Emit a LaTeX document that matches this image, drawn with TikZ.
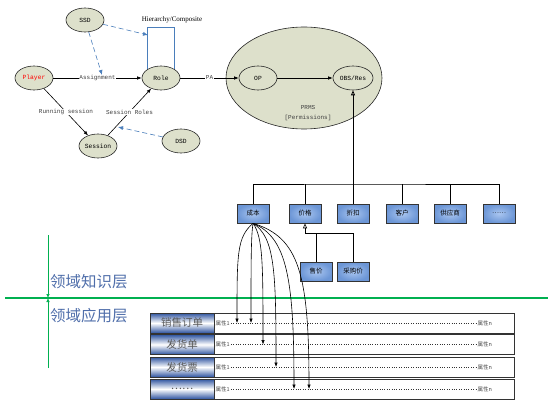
\documentclass[tikz,border=0pt]{standalone}
\usepackage{fontspec}
\setmainfont{Liberation Serif}
\setmonofont{Liberation Mono}
\newfontfamily\cjk{Noto Sans CJK SC}
\usetikzlibrary{shapes.geometric,arrows.meta,positioning}
\definecolor{ovalfill}{RGB}{221,224,203}
\definecolor{dashblue}{RGB}{74,126,187}
\definecolor{boxin}{RGB}{170,198,240}
\definecolor{boxout}{RGB}{108,150,214}
\definecolor{rowblue}{RGB}{46,84,160}
\definecolor{layergreen}{RGB}{0,176,80}
\definecolor{layertext}{RGB}{79,110,170}
\tikzset{
  oval/.style={ellipse, draw=black!85, semithick, fill=ovalfill, minimum width=38pt,
    minimum height=24pt, inner sep=0pt, font=\ttfamily\fontsize{6.3}{7}\selectfont},
  lbl/.style={fill=white, inner sep=0.6pt, text=black!75,
    font=\ttfamily\fontsize{6}{7}\selectfont},
  arr/.style={semithick, -{Latex[length=4.5pt,width=3.5pt]}},
  dasharr/.style={dashblue, semithick, dash pattern=on 5pt off 3pt,
    -{Latex[length=5pt,width=4pt]}},
  kbox/.style={draw=black!80, semithick, inner color=boxin, outer color=boxout,
    minimum width=32pt, minimum height=19pt, inner sep=0pt,
    font=\cjk\fontsize{6.5}{7}\selectfont},
  rowhead/.style={draw=black!80, semithick, top color=rowblue, bottom color=rowblue,
    middle color=white, minimum width=64pt, minimum height=20pt, inner sep=0pt,
    text=black!65, font=\cjk\fontsize{10.5}{11}\selectfont},
  rowbody/.style={draw=black!80, thick, fill=white, minimum width=300pt,
    minimum height=20pt, inner sep=0pt},
  attr/.style={inner sep=1pt, text=black!70, font=\cjk\fontsize{5.5}{6}\selectfont},
  layer/.style={anchor=west, inner sep=0pt, text=layertext,
    font=\cjk\fontsize{15.5}{16}\selectfont}
}
\begin{document}
\begin{tikzpicture}[x=1pt,y=-1pt]
\useasboundingbox (0,0) rectangle (548,406);
% role model
\node[oval] (ssd) at (85,20) {SSD};
\node[oval, text=red] (player) at (34,78) {Player};
\node[oval] (role) at (161,78) {Role};
\node[oval] (session) at (98,146) {Session};
\node[oval] (dsd) at (181,141) {DSD};
\node[ellipse, draw=black!85, semithick, fill=ovalfill, minimum width=156pt, minimum height=102pt] (prms) at (304,78) {};
\node[oval] (op) at (258,78) {OP};
\node[oval, minimum width=40pt] (obs) at (353,78) {OBS/Res};
\node[lbl, fill=none] (prmsname) at (308,108) {PRMS};
\node[lbl, fill=none] (prmsperm) at (308,118) {[Permissions]};
\node[inner sep=0pt, font=\fontsize{7}{8}\selectfont] (hier) at (172,20) {Hierarchy/Composite};
\draw[dashblue, semithick] (role.146) -- ++(0,-42) -| (role.34);
\draw[arr] (player) -- node[lbl]{Assignment} (role);
\draw[arr] (player) -- node[lbl]{Running session} (session);
\draw[arr] (session) -- node[lbl]{Session Roles} (role);
\draw[arr] (role) -- node[lbl]{PA} (op);
\draw[arr] (op) -- (obs);
\coordinate (loopin) at (148,35);
\coordinate (assignpt) at (102,75);
\coordinate (sessin) at (118,127);
\draw[dasharr] (ssd) -- (loopin);
\draw[dasharr] (ssd) -- (assignpt);
\draw[dasharr] (dsd) -- (sessin);
% knowledge objects
\node[kbox] (cost) at (253,213.5) {成本};
\node[kbox] (price) at (305,213.5) {价格};
\node[kbox] (discount) at (353,213.5) {折扣};
\node[kbox] (client) at (402,213.5) {客户};
\node[kbox] (supplier) at (450,213.5) {供应商};
\node[kbox] (more) at (499,213.5) {……};
\node[kbox] (sale) at (316,271.5) {售价};
\node[kbox] (buy) at (353,271.5) {采购价};
\coordinate (bus) at (353,184);
\draw[semithick] (cost.north) |- (bus) -| (more.north);
\foreach \n in {price,client,supplier}
  \draw[semithick] (\n.north) -- (\n.north |- bus);
\draw[thick, -{Triangle[open,length=5pt,width=4pt]}] (discount.north) -- (obs.south);
\coordinate (pj) at (305,233);
\draw[semithick] (buy.north) |- (pj);
\draw[semithick, -{Triangle[open,length=5pt,width=4pt]}] (sale.north) |- (pj) -- (price.south);
% layers
\coordinate (vtop) at (48,235);
\coordinate (vmid) at (48,298);
\coordinate (vbot) at (48,368);
\draw[layergreen, line width=1.5pt] (5,298) -- (548,298);
\draw[layergreen, semithick, -{Latex[length=4pt,width=3.5pt]}] (vtop) -- (vmid);
\draw[layergreen, semithick, -{Latex[length=4pt,width=3.5pt]}] (vbot) -- (vmid);
\node[layer] (know) at (50,282) {领域知识层};
\node[layer] (appl) at (50,316) {领域应用层};
% application rows
\node[rowhead] (r1) at (182,323) {销售订单};
\node[rowhead] (r2) at (182,344.5) {发货单};
\node[rowhead] (r3) at (182,367) {发货票};
\node[rowhead] (r4) at (182,389) {……};
\foreach \r in {1,2,3,4} {
  \node[rowbody, right=0pt of r\r] (b\r) {};
  \node[attr, anchor=west] (a\r) at (b\r.west) {属性1};
  \node[attr, anchor=east] (n\r) at ([xshift=-22pt]b\r.east) {属性n};
  \draw[dotted, black!80] (a\r) -- (n\r);
}
\coordinate (t1) at (237,323);
\coordinate (t2) at (251,323);
\coordinate (t3) at (263,344.5);
\coordinate (t4) at (276,367);
\coordinate (t5) at (294,389);
\coordinate (t6) at (309,389);
\foreach \t/\a/\b in {t1/-16/70,t2/-2/60,t3/10/80,t4/22/95,t5/34/110,t6/46/115}
  \draw[arr] (cost.south) .. controls +(\a,14) and +(0,-\b) .. (\t);
\end{tikzpicture}
\end{document}
